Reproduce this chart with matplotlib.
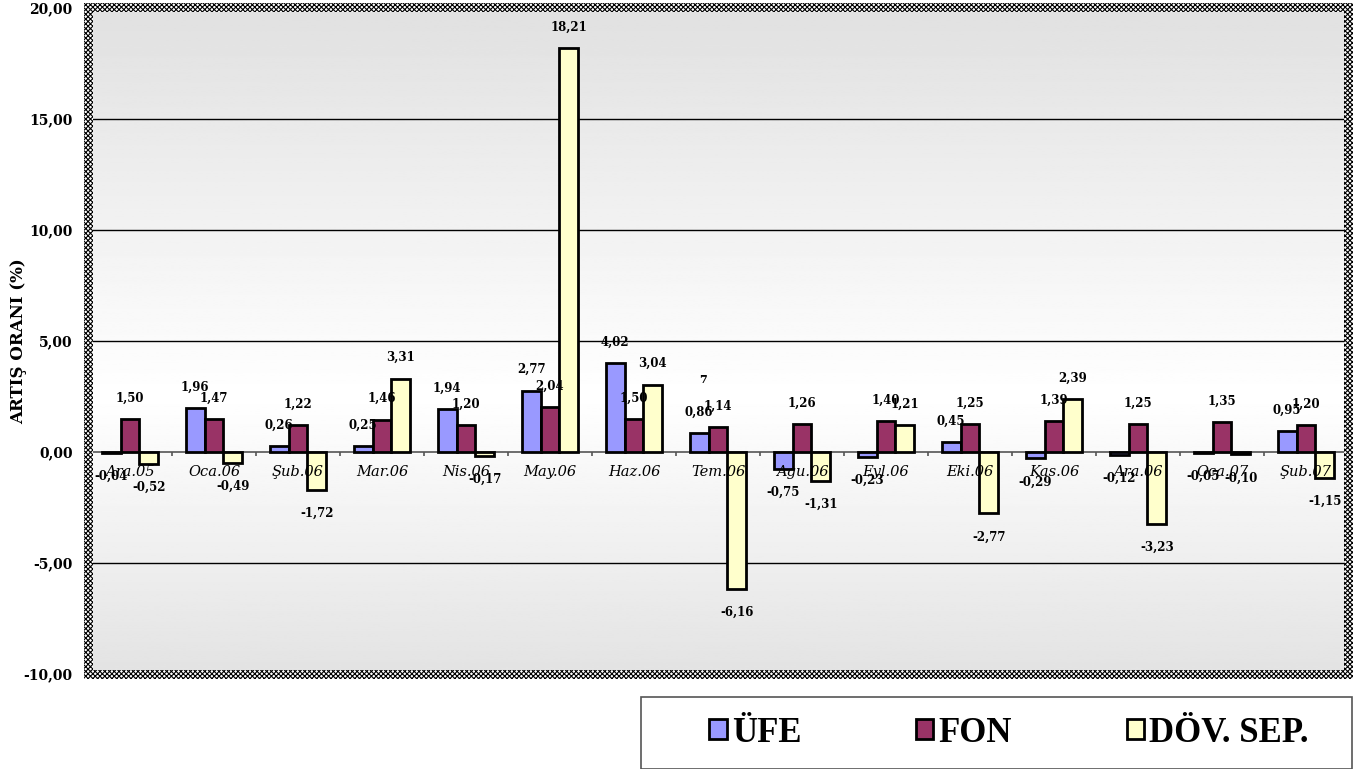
import numpy as np
import matplotlib
matplotlib.use("Agg")
import matplotlib.pyplot as plt
from matplotlib.patches import Patch, Rectangle

plt.rcParams['hatch.linewidth'] = 0.8

categories = ["Ara.05", "Oca.06", "Şub.06", "Mar.06", "Nis.06", "May.06", "Haz.06",
              "Tem.06", "Agu.06", "Eyl.06", "Eki.06", "Kas.06", "Ara.06", "Oca.07", "Şub.07"]
ufe = [-0.04, 1.96, 0.26, 0.25, 1.94, 2.77, 4.02, 0.86, -0.75, -0.23, 0.45, -0.29, -0.12, -0.05, 0.95]
fon = [1.50, 1.47, 1.22, 1.46, 1.20, 2.04, 1.50, 1.14, 1.26, 1.40, 1.25, 1.39, 1.25, 1.35, 1.20]
doviz = [-0.52, -0.49, -1.72, 3.31, -0.17, 18.21, 3.04, -6.16, -1.31, 1.21, -2.77, 2.39, -3.23, -0.10, -1.15]

series = [("ÜFE", ufe, "#9999ff"), ("FON", fon, "#993366"), ("DÖV. SEP.", doviz, "#ffffcc")]
yticks = [-10, -5, 0, 5, 10, 15, 20]

serif = "DejaVu Serif"
W, H = 1353, 769

fig = plt.figure(figsize=(W / 100, H / 100), dpi=100)
ax_pos = [88 / W, 1 - 674 / H, 1260 / W, 666 / H]
ax = fig.add_axes(ax_pos)

n = len(categories)
x = np.arange(n)
ax.set_xlim(-0.5, n - 0.5)
ax.set_ylim(-10, 20)

# gradient background: grey at top, white around 2.5, grey at bottom
ys = np.linspace(20, -10, 300)
shade = np.where(ys > 2.5, 1 - 0.12 * (ys - 2.5) / 17.5, 1 - 0.11 * (2.5 - ys) / 12.5)
grad = np.repeat(shade[:, None], 2, axis=1)
ax.imshow(grad, cmap="gray", vmin=0, vmax=1, extent=[-0.5, n - 0.5, -10, 20],
          aspect="auto", zorder=0)

for yv in yticks[1:-1]:
    if yv == 0:
        ax.axhline(0, color="#555555", lw=1.2, zorder=1)
    else:
        ax.axhline(yv, color="black", lw=1.0, zorder=1)

# small tick marks on zero line between categories
ax.vlines(x[:-1] + 0.5, -0.2, 0, color="#555555", lw=1.2, zorder=1)

w = 0.225
for k, (name, vals, col) in enumerate(series):
    pos = x + (k - 1) * w
    ax.bar(pos, vals, width=w, color=col, edgecolor="black", lw=2, zorder=3)
    for px, v in zip(pos, vals):
        txt = f"{v:.2f}".replace(".", ",")
        off = 15 if v >= 0 else -17
        ax.annotate(txt, (px, v), xytext=(0, off), textcoords="offset points",
                    ha="center", va="center", fontsize=8.5, fontweight="bold",
                    family=serif, zorder=5)

for i, c in enumerate(categories):
    ax.annotate(c, (i, 0), xytext=(0, -14.5), textcoords="offset points",
                ha="center", va="center", fontsize=10.5, fontstyle="italic",
                family=serif, zorder=4)

ax.text(7 - w, 3.1, "7", fontsize=8, fontweight="bold", family=serif, zorder=5)

ax.set_xticks([])
ax.set_yticks(yticks)
ax.set_yticklabels([f"{v:.2f}".replace(".", ",") for v in yticks],
                   fontsize=10, fontweight="bold", family=serif)
ax.tick_params(axis="y", length=0, pad=11)
ax.set_ylabel("ARTIŞ ORANI (%)", fontsize=12, fontweight="bold", family=serif)
ax.yaxis.set_label_coords(-61 / 1260, 0.5)

for sp in ax.spines.values():
    sp.set_visible(False)

# checkered frame around plot area
t = 9 / W
tv = 9 / H
L, B, Wd, Ht = ax_pos
strips = [(L - t / 2, B - tv / 2, t, Ht + tv), (L + Wd - t / 2, B - tv / 2, t, Ht + tv),
          (L - t / 2, B - tv / 2, Wd + t, tv), (L - t / 2, B + Ht - tv / 2, Wd + t, tv)]
for sx, sy, sw, sh in strips:
    fig.patches.append(Rectangle((sx, sy), sw, sh, transform=fig.transFigure,
                                 facecolor="white", edgecolor="black", lw=0,
                                 hatch="xxxxxxx", zorder=10))

# legend box
fig.patches.append(Rectangle((641 / W, 0), 711 / W, 72 / H, transform=fig.transFigure,
                             facecolor="white", edgecolor="#555555", lw=1.2))
handles = [Patch(facecolor=c, edgecolor="black", lw=2, label=nm) for nm, _, c in series]
leg = fig.legend(handles=handles, loc="center", ncol=3, frameon=False,
                 bbox_to_anchor=(1009 / W, 1 - 733 / H),
                 prop={"family": "Liberation Serif", "weight": "bold", "size": 25},
                 handlelength=0.5, handleheight=0.5, handletextpad=0.15,
                 columnspacing=3.3)

fig.savefig("out.png", dpi=100)
